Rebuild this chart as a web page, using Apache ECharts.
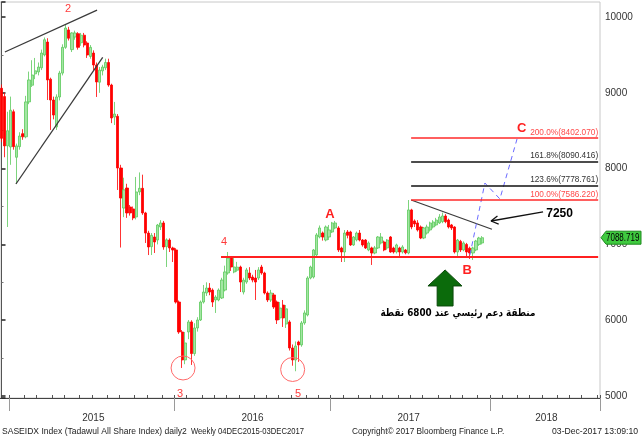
<!DOCTYPE html>
<html><head><meta charset="utf-8">
<script src="https://cdn.jsdelivr.net/npm/echarts@6/dist/echarts.min.js"></script>
<style>html,body{margin:0;padding:0;background:#fff}#c{width:642px;height:441px}</style>
</head><body><div id="c"></div><script>
// ---- weekly OHLC values ----
const opens = [9060,8950,8300,8285,8750,8150,8290,8460,8420,8880,9100,9250,9275,9330,9500,9670,9180,8905,8550,8945,
9260,9600,9830,9570,9736,9780,9660,9760,9657,9480,9525,9367,9140,9290,9330,9400,9103,8680,8690,8008,
7480,7744,7494,7468,7362,7692,7740,7415,7150,6970,7098,7058,7230,7283,6970,7058,6953,6927,6240,5845,
5476,5845,5977,5560,5898,6003,6240,6359,6425,6398,6267,6267,6293,6398,6623,6820,6636,6660,6702,6372,
6504,6623,6570,6557,6557,6702,6623,6359,6267,6333,6240,6030,6200,5950,5977,5634,5476,5713,5674,5964,
6069,6557,6570,6861,7098,7150,7058,7098,7164,7217,7217,6953,6900,7164,7164,6993,7060,7150,7058,7058,
6927,6953,6887,6953,7019,7032,6953,7098,6953,6900,6953,6900,6927,6887,7455,7310,7283,7230,7085,7150,
7191,7230,7257,7283,7300,7375,7322,7257,7230,6900,7040,6927,7000,6950,6887,6927,7000,7019];
const closes = [8400,8300,8500,8770,8290,8300,8430,8420,8880,9170,9235,9290,9340,9525,9700,9170,8905,8707,8945,9260,
9600,9855,9720,9790,9789,9600,9760,9630,9499,9600,9367,9143,9300,9340,9400,9103,8668,8720,8008,7612,
7720,7415,7415,7349,7692,7740,7415,7150,6966,7120,7032,7256,7283,6966,7060,6953,6927,6240,5845,5476,
5700,5977,5560,5898,6003,6240,6372,6425,6372,6240,6306,6398,6530,6637,6820,6702,6702,6700,6504,6530,
6663,6557,6530,6504,6663,6623,6359,6267,6359,6175,6003,6161,6030,6150,5634,5476,5660,5674,5964,6096,
6557,6702,6927,7125,7217,7098,7230,7191,7283,7283,6927,6900,7150,7120,6993,7098,7150,7058,6993,6953,
7019,6887,6953,7098,7098,6927,7058,6900,6900,6993,6900,6966,6890,7455,7230,7270,7191,7085,7217,7230,
7283,7296,7322,7362,7375,7300,7230,7217,6900,7058,6927,7019,6900,6887,6953,7045,7085,7088.719];
const lows = [8350,8150,7230,8050,8250,7800,8250,8380,8400,8850,9077,9180,9230,9300,9480,8905,8510,8650,8510,8900,
9230,9580,9690,9538,9700,9570,9620,9600,9460,9450,9300,8945,9000,9230,9300,9080,8600,8575,7718,6959,
7360,7350,7380,7320,7330,7650,7390,7019,6860,6860,6887,7000,7190,6930,6702,6900,6768,6220,5820,5370,
5420,5750,5410,5530,5850,5990,6220,6320,6330,6175,6096,6250,6280,6380,6600,6650,6620,6640,6372,6340,
6480,6530,6500,6267,6530,6600,6340,6240,6240,6150,5950,6003,5911,5898,5600,5400,5327,5450,5650,5940,
6050,6540,6550,6840,7080,7050,7040,7059,7150,7200,6900,6768,6768,7080,6980,6980,7040,7040,6970,6940,
6910,6729,6870,6940,7000,6910,6930,6890,6880,6880,6834,6880,6870,6870,7200,7230,7170,7070,7070,7130,
7170,7210,7240,7270,7280,7280,7210,7190,6880,6834,6900,6910,6821,6808,6795,6910,6980,7000];
const highs = [9110,9000,8750,8950,8780,8330,8480,8520,8960,9280,9430,9460,9400,9570,9730,9720,9200,8950,8980,9290,
9640,9894,9870,9800,9820,9800,9790,9790,9680,9630,9560,9400,9340,9370,9450,9450,9120,8880,8720,8050,
7880,7800,7520,7500,7890,7950,7920,7430,7180,7150,7150,7270,7320,7310,7080,7080,6970,6950,6260,5870,
5845,6003,6000,5960,6040,6260,6465,6500,6490,6420,6330,6420,6560,6720,6900,6840,6820,6770,6720,6560,
6690,6700,6600,6663,6700,6730,6640,6380,6400,6360,6260,6240,6267,6201,6000,5680,5720,5730,5990,6130,
6580,6720,6940,7150,7250,7170,7250,7257,7297,7310,7240,6970,7190,7190,7180,7110,7170,7190,7070,7070,
7040,6970,6980,7110,7150,7050,7070,7110,6970,7010,6970,6990,6940,7586,7470,7330,7320,7250,7230,7260,
7300,7320,7350,7400,7420,7400,7340,7270,7240,7072,7060,7040,7020,6970,6970,7060,7100,7110];

// ---- axis / label values ----
const categoryCount = 196;
const categories = Array.from({length: categoryCount}, (_, i) => 'W' + i);
const yearTickIdx = [3, 57, 108, 160];
const yearLabelIdx = [30, 82, 133, 178];
const yearLabels = ['2015', '2016', '2017', '2018'];
const yTickValues = [5000, 6000, 7000, 8000, 9000, 10000];
const lastPrice = 7088.719;

// fibonacci levels
const fibNames = ['200.0%', '161.8%', '123.6%', '100.0%'];
const fibValues = [8402.070, 8090.416, 7778.761, 7586.220];
const fibColors = ['#ff2a2a', '#111111', '#111111', '#ff2a2a'];
const fibLabelColors = ['#ff4a4a', '#333333', '#333333', '#ff4a4a'];
const fibStartIdx = 133.8, lineEndIdx = 194.9;
const supportLevel = 6838, supportStartIdx = 71.7;

// trendlines (index, price)
const trendUpper = [[1.1, 9538], [31.2, 10092]];
const trendLower = [[4.7, 7797], [33.05, 9468]];
const trendDown = [[133.8, 7586], [160.2, 7200]];
const projection = [[153.0, 6861], [157.9, 7810], [162.8, 7600], [168.4, 8391]];
const arrowShaft = [[176.9, 7428], [159.9, 7309]];
const arrowHead = [[162.0, 7375], [159.9, 7309], [162.4, 7269]];

// annotations (index, price)
const notes = [
  {t: '2', at: [21.7, 10105], s: 11, b: 'normal', c: '#ff3b3b', sx: 1},
  {t: '3', at: [58.3, 5027], s: 11, b: 'normal', c: '#ff3b3b', sx: 1},
  {t: '4', at: [72.7, 7032], s: 11, b: 'normal', c: '#ff3b3b', sx: 1},
  {t: '5', at: [96.9, 5027], s: 11, b: 'normal', c: '#ff3b3b', sx: 1},
  {t: 'A', at: [107.3, 7402], s: 13, b: 'bold', c: '#ff2020', sx: 1},
  {t: 'B', at: [152.1, 6663], s: 13, b: 'bold', c: '#ff2020', sx: 1},
  {t: 'C', at: [169.9, 8530], s: 13, b: 'bold', c: '#ff2020', sx: 1},
  {t: '7250', at: [182.3, 7402], s: 12, b: 'bold', c: '#000000', sx: 1},
  {t: 'منطقة دعم رئيسي عند 6800 نقطة', at: [149.1, 6090], s: 10.5, b: 'bold', c: '#000000', sx: 0.84}
];
const circles = [[59.3, 5370], [95.1, 5350]];
const bigArrow = [[144.9, 6663], [150.4, 6452], [147.5, 6452], [147.5, 6188], [142.3, 6188], [142.3, 6452], [139.3, 6452]];

// month ticks derived from the year starts
const monthTicks = new Set();
const spans = [[3, 57], [57, 108], [108, 160], [160, 212]];
spans.forEach(([a, b]) => { for (let k = 0; k < 12; k++) { const v = Math.round(a + k * (b - a) / 12); if (v < categoryCount) monthTicks.add(v); } });
const yearTickSet = new Set(yearTickIdx);
const yearLabelMap = new Map(yearLabelIdx.map((v, i) => [v, yearLabels[i]]));

const candleData = opens.map((o, i) => [o, closes[i], lows[i], highs[i]]);

const FONT = 'Liberation Sans, DejaVu Sans, sans-serif';

const fibMarks = fibValues.map((v, i) => [
  {coord: [fibStartIdx, v], lineStyle: {color: fibColors[i], width: 1.5, type: 'solid'}, label: {show: false}},
  {coord: [lineEndIdx, v]}
]);
fibMarks.push([
  {coord: [supportStartIdx, supportLevel], lineStyle: {color: '#ff2020', width: 2, type: 'solid'}, label: {show: false}},
  {coord: [lineEndIdx, supportLevel]}
]);

const lineSeries = (data, color, width, type) => ({
  type: 'line', xAxisIndex: 1, yAxisIndex: 0, data: data, symbol: 'none', silent: true, clip: false,
  lineStyle: {color: color, width: width, type: type || 'solid'}, z: 4, animation: false
});

const option = {
  animation: false,
  backgroundColor: '#ffffff',
  grid: {left: 0, right: 42, top: 2, bottom: 43, show: true, borderColor: '#c8c8c8', borderWidth: 1, containLabel: false},
  xAxis: [
    {type: 'category', data: categories, boundaryGap: true, position: 'bottom',
     axisLine: {show: true, lineStyle: {color: '#444', width: 1}},
     axisTick: {show: true, inside: true, length: 3, interval: (i) => monthTicks.has(i), lineStyle: {color: '#555'}},
     axisLabel: {show: false}, splitLine: {show: false}},
    {type: 'value', min: -0.5, max: 195.5, show: false},
    {type: 'category', data: categories, boundaryGap: true, position: 'bottom',
     axisLine: {show: false},
     axisTick: {show: true, length: 13, interval: (i) => yearTickSet.has(i), lineStyle: {color: '#9a9a9a'}},
     axisLabel: {show: true, interval: (i) => yearLabelMap.has(i), formatter: (v, i) => yearLabelMap.get(i) || '',
                 fontSize: 10, color: '#333', fontFamily: FONT, margin: 15},
     splitLine: {show: false}}
  ],
  yAxis: [{
    type: 'value', position: 'right', min: 4974, max: 10198, splitNumber: 5, scale: true,
    axisLine: {show: true, lineStyle: {color: '#555', width: 1}},
    axisTick: {show: true, length: 4, lineStyle: {color: '#222', width: 1.5}},
    minorTick: {show: true, splitNumber: 2, length: 2, lineStyle: {color: '#777'}},
    axisLabel: {fontSize: 10, color: '#333', fontFamily: FONT, margin: 5,
                formatter: (v) => yTickValues.indexOf(Math.round(v)) >= 0 ? String(Math.round(v)) : ''},
    splitLine: {show: false}
  }],
  series: [
    {type: 'candlestick', xAxisIndex: 0, yAxisIndex: 0, data: candleData, barWidth: 2.7,
     itemStyle: {color: '#a3e6a3', color0: '#ff0000', borderColor: '#5cc95c', borderColor0: '#ff0000', borderWidth: 0.8},
     z: 2},
    Object.assign(lineSeries([], '#000', 1), {markLine: {symbol: ['none', 'none'], silent: true, animation: false, data: fibMarks}, z: 3}),
    lineSeries(trendUpper, '#3a3a3a', 1.3),
    lineSeries(trendLower, '#3a3a3a', 1.3),
    lineSeries(trendDown, '#3a3a3a', 1.3),
    lineSeries(projection, '#6a6aff', 1, [5, 4]),
    lineSeries(arrowShaft, '#111', 1.3),
    lineSeries(arrowHead, '#111', 1.3)
  ]
};

const chart = echarts.init(document.getElementById('c'), null, {renderer: 'canvas'});
chart.setOption(option);

const px = (p) => chart.convertToPixel({seriesIndex: 5}, p);
const graphics = [];
// fib labels (anchored at the right end of each level line)
fibValues.forEach((v, i) => {
  const p = px([lineEndIdx, v]);
  graphics.push({type: 'text', x: p[0], y: p[1] - 1, scaleX: 0.87, z: 9,
    style: {text: fibNames[i] + '(' + v.toFixed(3) + ')', fill: fibLabelColors[i], fontSize: 9.5, fontFamily: FONT, align: 'right', verticalAlign: 'bottom'}});
});
// big green arrow
graphics.push({type: 'polygon', shape: {points: bigArrow.map(px)}, style: {fill: '#0b6b0b', stroke: '#0a4a0a', lineWidth: 1}, z: 10});
// circles
circles.forEach((c) => { const p = px(c); graphics.push({type: 'circle', shape: {cx: p[0], cy: p[1], r: 12}, style: {fill: 'none', stroke: '#ff6a6a', lineWidth: 1}, z: 10}); });
// text notes
notes.forEach((n) => { const p = px(n.at); graphics.push({type: 'text', x: p[0], y: p[1], scaleX: n.sx, style: {text: n.t, fill: n.c, fontSize: n.s, fontWeight: n.b, fontFamily: n.t.length > 10 ? 'DejaVu Sans, sans-serif' : FONT, align: 'center', verticalAlign: 'middle'}, z: 11}); });
// last price flag
const fy = chart.convertToPixel({yAxisIndex: 0}, lastPrice);
graphics.push({type: 'polygon', shape: {points: [[601, fy], [606, fy - 6.5], [641, fy - 6.5], [641, fy + 6.5], [606, fy + 6.5]]}, style: {fill: '#3fca3f', stroke: '#1f8a1f', lineWidth: 1}, z: 12});
graphics.push({type: 'text', x: 606, y: fy + 0.5, scaleX: 0.8, style: {text: lastPrice.toFixed(3), fill: '#000', fontSize: 10, fontFamily: FONT, verticalAlign: 'middle'}, z: 13});
// footer
const footStyle = {fill: '#222', fontSize: 9, fontFamily: FONT, verticalAlign: 'middle'};
const footer = [
  {t: 'SASEIDX Index (Tadawul All Share Index) daily2', x: 2, sx: 0.95, a: 'left'},
  {t: 'Weekly 04DEC2015-03DEC2017', x: 191, sx: 0.85, a: 'left'},
  {t: 'Copyright\u00A9 2017 Bloomberg Finance L.P.', x: 352, sx: 0.92, a: 'left'},
  {t: '03-Dec-2017 13:09:10', x: 638, sx: 0.96, a: 'right'}
];
footer.forEach((f) => graphics.push({type: 'text', x: f.x, y: 432, scaleX: f.sx, style: Object.assign({text: f.t, align: f.a}, footStyle)}));
chart.setOption({graphic: graphics});
</script></body></html>
